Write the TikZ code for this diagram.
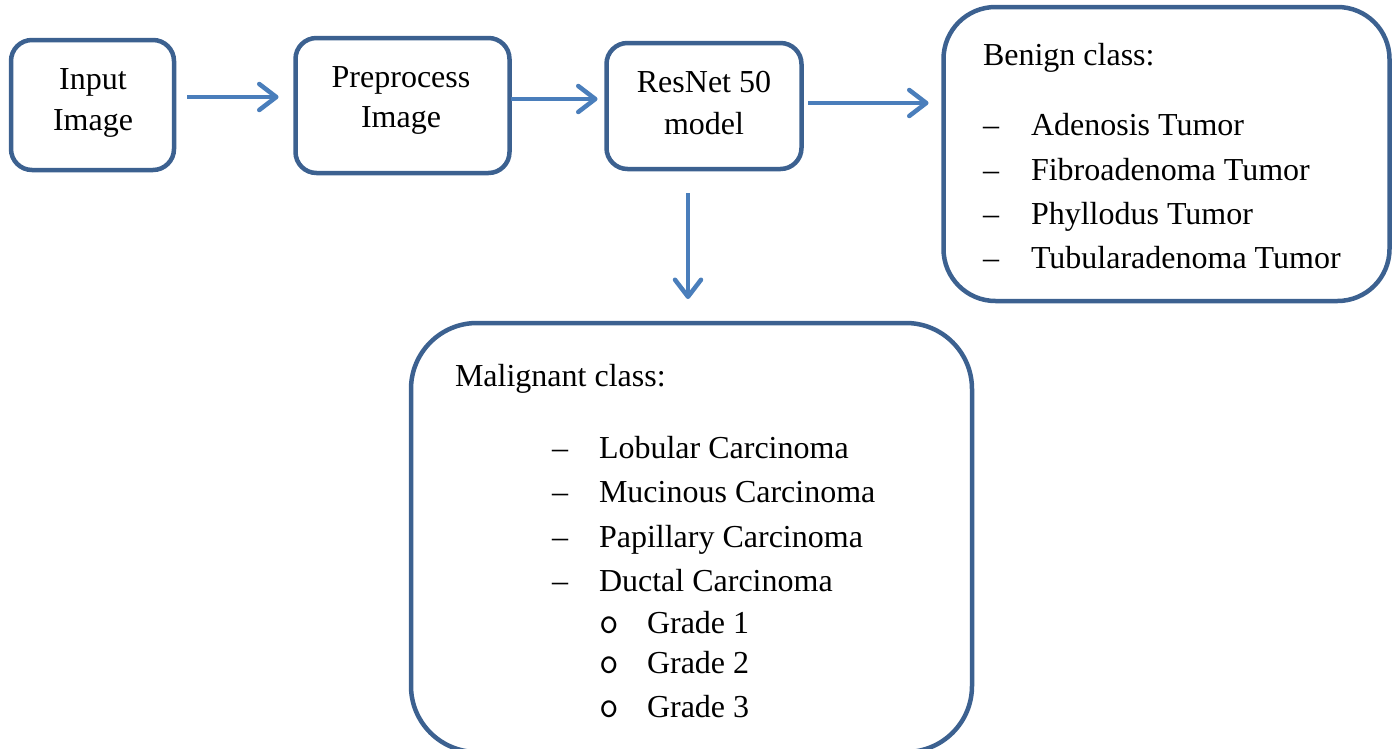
\documentclass[tikz,border=0pt]{standalone}
\usepackage{fontspec}
\setmainfont{Liberation Serif}
\usetikzlibrary{arrows.meta}
\definecolor{boxblue}{HTML}{3C6190}
\definecolor{arrblue}{HTML}{4A7EBB}
\tikzset{
  box/.style={draw=boxblue, line width=4.5pt, fill=white, inner sep=0pt, outer sep=0pt},
  smallbox/.style={box, rounded corners=21pt},
  bigbox/.style={box, rounded corners=52pt},
  hugebox/.style={box, rounded corners=66pt},
  lbl/.style={inner sep=0pt, outer sep=0pt, anchor=base, font=\fontsize{32}{38}\selectfont},
  lft/.style={lbl, anchor=base west},
  arr/.style={draw=arrblue, line width=4.5pt, -{Straight Barb[length=17pt,width=26pt,line width=4.5pt,round]}}
}
\begin{document}
\begin{tikzpicture}[x=1pt,y=-1pt]
\path[use as bounding box, clip] (0,0) rectangle (1395,748);
% boxes
\node[smallbox, minimum width=163pt, minimum height=130pt] (in) at (92.5,105) {};
\node[smallbox, minimum width=214pt, minimum height=135pt] (pre) at (402.5,105.5) {};
\node[smallbox, minimum width=195pt, minimum height=126pt] (res) at (704,106) {};
\node[bigbox, minimum width=446pt, minimum height=294pt] (ben) at (1166.5,154) {};
\node[hugebox, minimum width=561pt, minimum height=429pt] (mal) at (691.5,537.5) {};
% box texts
\node[lbl] (in1) at (93,89) {Input};
\node[lbl] (in2) at (93,130) {Image};
\node[lbl] (pre1) at (401,87) {Preprocess};
\node[lbl] (pre2) at (401,127) {Image};
\node[lbl] (res1) at (704,92) {ResNet 50};
\node[lbl] (res2) at (704,134) {model};
% benign
\node[lft] (bt) at (983,65) {Benign class:};
\foreach \y/\t [count=\i] in {135/Adenosis Tumor,180/Fibroadenoma Tumor,224/Phyllodus Tumor,268/Tubularadenoma Tumor}{
  \node[lft] (bd\i) at (983,\y) {–};
  \node[lft] (bi\i) at (1031,\y) {\t};
}
% malignant
\node[lft] (mt) at (455,386) {Malignant class:};
\foreach \y/\t [count=\i] in {458/Lobular Carcinoma,502/Mucinous Carcinoma,547/Papillary Carcinoma,591/Ductal Carcinoma}{
  \node[lft] (md\i) at (552,\y) {–};
  \node[lft] (mi\i) at (599,\y) {\t};
}
\foreach \y/\t [count=\i] in {633/Grade 1,673/Grade 2,717/Grade 3}{
  \node[lft, font=\fontsize{38}{44}\ttfamily] (gc\i) at (599,\y) {o};
  \node[lft] (gi\i) at (647,\y) {\t};
}
% arrows
\draw[arr, shorten <=13pt, shorten >=17pt] ([yshift=8pt]in.east) -- ([yshift=8pt]in.east -| pre.west);
\draw[arr, shorten <=1pt, shorten >=9pt] ([yshift=6.5pt]pre.east) -- ([yshift=6.5pt]pre.east -| res.west);
\draw[arr, shorten <=6.5pt, shorten >=15pt] ([yshift=3pt]res.east) -- ([yshift=3pt]res.east -| ben.west);
\draw[arr, shorten <=24pt, shorten >=24pt] ([xshift=-16pt]res.south) -- ([xshift=-16pt]res.south |- mal.north);
\end{tikzpicture}
\end{document}
